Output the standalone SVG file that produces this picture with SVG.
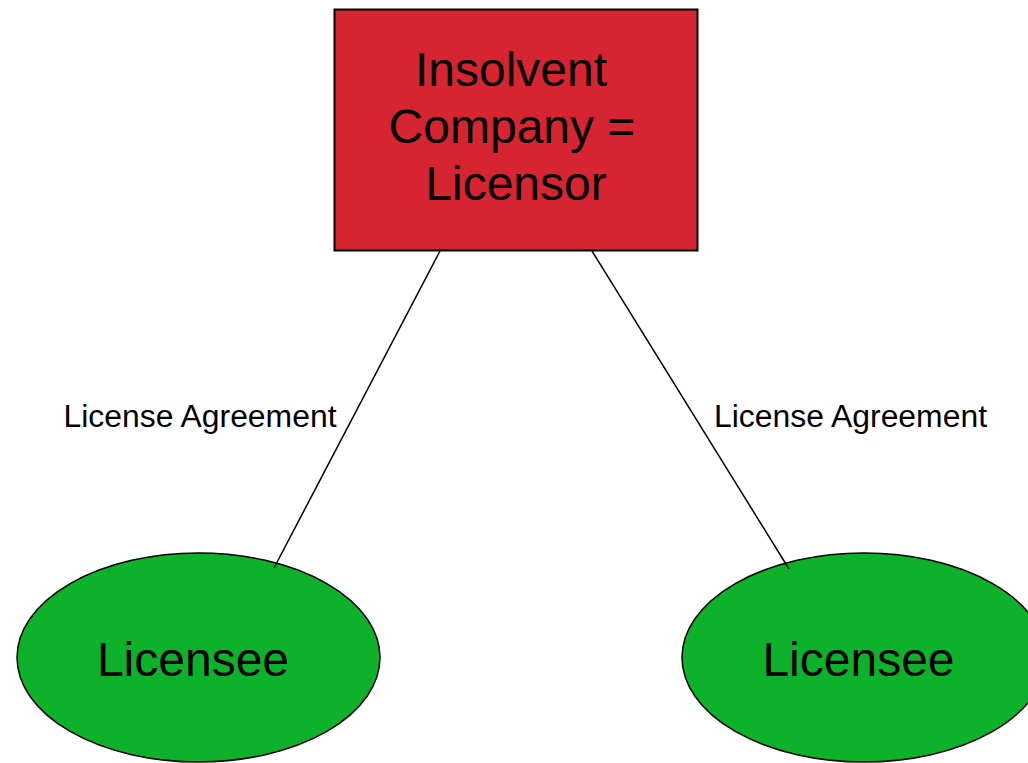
<svg xmlns="http://www.w3.org/2000/svg" width="1028" height="763" viewBox="0 0 1028 763">
<style>
.t{font-family:"Liberation Sans",Arial,sans-serif;fill:#000;text-anchor:middle}
.big{font-size:48px}
.lbl{font-size:31px}
.edge{stroke:#000;stroke-width:1.5;fill:none}
</style>
<rect width="1028" height="763" fill="#fff"/>
<g id="licensor">
<rect x="334.5" y="9.5" width="363" height="241" fill="#d62430" stroke="#000" stroke-width="2"/>
<text class="t big" x="511" y="86">Insolvent</text>
<text class="t big" x="512" y="143">Company =</text>
<text class="t big" x="516" y="200">Licensor</text>
</g>
<g id="licensee1">
<ellipse cx="198.5" cy="657.5" rx="181.5" ry="104.5" fill="#0db22a" stroke="#000" stroke-width="1.5"/>
<text class="t big" x="193" y="676">Licensee</text>
</g>
<g id="licensee2">
<ellipse cx="864" cy="657.5" rx="182" ry="104.5" fill="#0db22a" stroke="#000" stroke-width="1.5"/>
<text class="t big" x="858.5" y="676">Licensee</text>
</g>
<g id="connectors">
<line class="edge" x1="440" y1="251" x2="274" y2="568"/>
<line class="edge" x1="592" y1="251" x2="789" y2="569"/>
<text class="t lbl" x="200" y="427" textLength="273" lengthAdjust="spacingAndGlyphs">License Agreement</text>
<text class="t lbl" x="850.5" y="427" textLength="273" lengthAdjust="spacingAndGlyphs">License Agreement</text>
</g>
</svg>
